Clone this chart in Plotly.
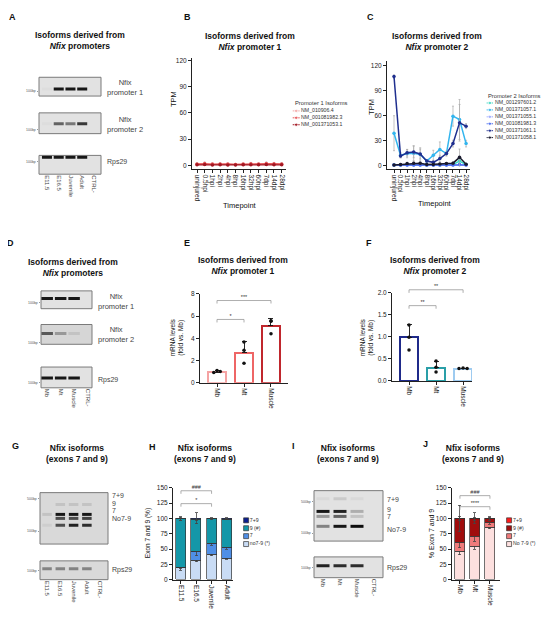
import math
import plotly.graph_objects as go

W, H = 550, 634
OFF = 8  # page body margin the figure sits in
FONT = 'Liberation Sans'

# ---------------- data ----------------
timepoints = ['uninjured', '0.5hpi', '1hpi', '2hpi', '4hpi', '8hpi', '16hpi',
              '32hpi', '60hpi', '7dpi', '14dpi', '28dpi']

# B - promoter 1 isoforms (TPM)
p1_names = ['NM_010906.4', 'NM_001081982.3', 'NM_001371053.1']
p1_colors = ['#f4a9a8', '#e8585a', '#a31621']
p1_tpm = [
    [1.2, 1.5, 1.0, 1.1, 1.0, 0.8, 1.0, 1.3, 1.0, 1.4, 1.2, 1.1],
    [1.5, 2.0, 1.4, 1.6, 1.5, 1.0, 1.4, 1.8, 1.5, 2.0, 1.8, 1.6],
    [0.6, 0.8, 0.5, 0.6, 0.5, 0.4, 0.6, 0.7, 0.6, 0.8, 0.7, 0.6],
]
p1_err = [
    [1.0, 1.5, 0.8, 0.9, 0.8, 0.5, 0.8, 1.2, 0.8, 1.5, 1.2, 1.0],
    [1.2, 1.8, 1.0, 1.2, 1.0, 0.6, 1.0, 1.5, 1.0, 1.8, 1.5, 1.2],
    [0.4, 0.6, 0.4, 0.4, 0.4, 0.3, 0.4, 0.5, 0.4, 0.6, 0.5, 0.4],
]

# C - promoter 2 isoforms (TPM)
p2_names = ['NM_001297601.2', 'NM_001371057.1', 'NM_001371055.1',
            'NM_001081981.3', 'NM_001371061.1', 'NM_001371058.1']
p2_colors = ['#3fd9c4', '#33b5ee', '#9aa8ff', '#4a6cf0', '#1f2f8f', '#1a1a2e']
p2_tpm = [
    [0.3, 0.3, 0.5, 0.6, 0.5, 0.3, 0.3, 0.4, 0.5, 1.0, 5.0, 0.8],
    [38.5, 12, 14, 14.5, 13, 5, 12, 19, 14, 59, 55, 26],
    [0.2, 0.1, 0.2, 0.2, 0.2, 0.1, 0.1, 0.2, 0.2, 0.3, 0.5, 0.2],
    [0.4, 0.2, 0.3, 0.3, 0.3, 0.2, 0.2, 0.3, 0.3, 0.4, 0.8, 0.3],
    [106.5, 11, 15, 16, 13.5, 5, 3.5, 8, 14, 26, 51, 47],
    [0.3, 1.0, 2.0, 2.5, 2.5, 0.8, 0.8, 1.5, 2.0, 2.5, 9.5, 1.2],
]
p2_err = [
    [0.3, 0.2, 0.3, 0.3, 0.3, 0.2, 0.2, 0.3, 0.3, 0.6, 3.5, 0.5],
    [21, 3, 5, 9, 8, 2, 6, 9, 3, 12, 24, 4],
    [0.1, 0.1, 0.1, 0.1, 0.1, 0.1, 0.1, 0.1, 0.1, 0.2, 0.3, 0.1],
    [0.2, 0.1, 0.2, 0.2, 0.2, 0.1, 0.1, 0.2, 0.2, 0.2, 0.4, 0.2],
    [2, 2, 4, 7, 6, 1, 2, 4, 2, 4, 22, 3],
    [0.3, 0.5, 1.0, 1.5, 1.5, 0.5, 0.5, 1.0, 1.0, 1.5, 10, 0.6],
]

# E / F - qPCR fold vs Mb
tissues = ['Mb', 'Mt', 'Muscle']
prom1_mean = [0.97, 2.74, 5.12]
prom1_sd = [0.1, 1.02, 0.67]
prom1_reps = [[0.94, 1.12, 1.03], [3.68, 2.94, 1.76], [5.59, 5.53, 4.41]]
prom1_colors = ['#f5a3a3', '#ee6666', '#c0272d']
prom1_sig = [(0, 1, 5.7, '*'), (0, 2, 7.4, '***')]

prom2_mean = [0.99, 0.30, 0.28]
prom2_sd = [0.29, 0.14, 0.01]
prom2_reps = [[1.27, 0.99, 0.70], [0.45, 0.31, 0.20], [0.28, 0.29, 0.28]]
prom2_colors = ['#1f2a8a', '#2a9fa8', '#9ecbf0']
prom2_sig = [(0, 1, 1.71, '**'), (0, 2, 2.07, '**')]

# H - exon 7/9 isoforms over development (%)
stages = ['E11.5', 'E16.5', 'Juvenile', 'Adult']
dev_names = ['no7-9 (*)', '7', '9 (#)', '7+9']
dev_colors = ['#c9dcf5', '#4f8fe6', '#1497a8', '#0b1f8f']
dev_pct = [
    [19, 31, 41, 34],
    [0.5, 14, 17, 18],
    [79.5, 53.4, 41, 46.5],
    [1, 1.6, 1, 1.5],
]
dev_err = [
    [4, 2, 2, 1],
    [0.5, 6, 2, 2],
    [2, 2, 1, 1],
    [3, 9, 1, 1],
]
dev_sig = [(0, 2, 124, '*'), (0, 2, 145, '###')]

# J - exon 7/9 isoforms in tissues (%)
tis_names = ['No 7-9 (*)', '7', '9 (#)', '7+9']
tis_colors = ['#fde0df', '#ef7b7b', '#a00d0d', '#ff1a1a']
tis_pct = [
    [46, 53, 84],
    [14, 17.6, 9],
    [39.5, 28.4, 6],
    [0.5, 1, 1],
]
tis_err = [
    [5, 3, 1],
    [8, 8, 3],
    [3, 3, 2],
    [21, 9, 3],
]
tis_sig = [(0, 2, 119, '****'), (0, 2, 137, '###')]

# gels: band intensities per lane (0 = no band)
lanes_dev = ['E11.5', 'E16.5', 'Juvenile', 'Adult', 'CTRL-']
lanes_tis = ['Mb', 'Mt', 'Muscle', 'CTRL-']
gelA_prom1 = [0.03, 0.95, 0.95, 0.95, 0.0]
gelA_prom2 = [0.03, 0.6, 0.5, 0.8, 0.0]
gelA_rps29 = [0.95, 0.95, 0.95, 0.95, 0.0]
gelD_prom1 = [0.95, 0.95, 0.95, 0.0]
gelD_prom2 = [0.65, 0.35, 0.15, 0.0]
gelD_rps29 = [0.95, 0.95, 0.95, 0.0]
exon_bands = ['7+9', '9', '7', 'No7-9']
gelG_exon = [
    [0.05, 0.15, 0.15, 0.15, 0.0],
    [0.15, 0.95, 0.95, 0.95, 0.0],
    [0.05, 0.7, 0.7, 0.75, 0.0],
    [0.1, 0.7, 0.9, 0.85, 0.0],
]
gelG_rps29 = [0.45, 0.45, 0.45, 0.45, 0.0]
gelI_exon = [
    [0.05, 0.12, 0.05, 0.0],
    [0.95, 0.9, 0.25, 0.0],
    [0.35, 0.6, 0.15, 0.0],
    [0.45, 0.95, 1.0, 0.0],
]
gelI_rps29 = [0.9, 0.85, 0.85, 0.0]

# band sizes (bp) as they sit on each gel
bpA = [108, 126, 117]
bpD = [117, 141, 121]
bpG = [373, 229, 188, 134]
bpG_rps29 = 110
bpI = [580, 303, 235, 142]
bpI_rps29 = 110

# ---------------- figure ----------------
fig = go.Figure()
anns = []
shapes = []


def xdom(a, b):
    return [(a - OFF) / W, (b - OFF) / W]


def ydom(top, bottom):
    return [1 - (bottom - OFF) / H, 1 - (top - OFF) / H]


def ids(n):
    return ('x', 'y') if n == 1 else (f'x{n}', f'y{n}')


def set_axes(n, xd, yd, xkw, ykw):
    xid, yid = ids(n)
    xname = 'xaxis' if n == 1 else f'xaxis{n}'
    yname = 'yaxis' if n == 1 else f'yaxis{n}'
    fig.update_layout(**{xname: dict(domain=xdom(*xd), anchor=yid, **xkw),
                         yname: dict(domain=ydom(*yd), anchor=xid, **ykw)})


def ann(x, y, text, size=7, angle=0, xanchor='center', color='#111'):
    anns.append(dict(x=(x - OFF) / W, y=1 - (y - OFF) / H, xref='paper', yref='paper', text=text,
                     showarrow=False, textangle=angle, xanchor=xanchor, yanchor='middle',
                     font=dict(size=size, color=color, family=FONT)))


AX = dict(showline=True, linecolor='#222', linewidth=1, ticks='outside', ticklen=3,
          tickwidth=1, tickcolor='#222', showgrid=False, zeroline=False,
          tickfont=dict(size=6.5, color='#222'))

# --- B: promoter 1 time course
tp_idx = list(range(len(timepoints)))
set_axes(1, (192, 286), (55, 167),
         dict(AX, range=[-0.65, 11.56], tickvals=tp_idx, ticktext=timepoints,
              tickangle=90, tickfont=dict(size=6.5, color='#222')),
         dict(AX, range=[-4.5, 122.3], tickvals=[0, 30, 60, 90, 120]))
for nm, c, v, e in zip(p1_names, p1_colors, p1_tpm, p1_err):
    fig.add_trace(go.Scatter(x=tp_idx, y=v, mode='lines+markers', xaxis='x', yaxis='y',
                             line=dict(color=c, width=1.3), marker=dict(size=3.5, color=c),
                             error_y=dict(type='data', array=e, color='#aaa', thickness=0.7, width=1),
                             showlegend=False))

# --- C: promoter 2 time course
set_axes(2, (387, 470), (58, 167),
         dict(AX, range=[-1.07, 11.6], tickvals=tp_idx, ticktext=timepoints,
              tickangle=90, tickfont=dict(size=6.5, color='#222')),
         dict(AX, range=[-4.8, 124.7], tickvals=[0, 30, 60, 90, 120]))
for nm, c, v, e in zip(p2_names, p2_colors, p2_tpm, p2_err):
    fig.add_trace(go.Scatter(x=tp_idx, y=v, mode='lines+markers', xaxis='x2', yaxis='y2',
                             line=dict(color=c, width=1.5), marker=dict(size=3.5, color=c),
                             error_y=dict(type='data', array=e, color='#aaa', thickness=0.7, width=1),
                             showlegend=False))


def bracket(n, xd, yd, xr, yr, sig, d, extra=16):
    # invisible twin axis, taller than the plot, so brackets above the range are not clipped
    top, bottom = yd
    per_px = (yr[1] - yr[0]) / (bottom - top)
    set_axes(n, xd, (top - extra, bottom), dict(visible=False, range=xr),
             dict(visible=False, range=[yr[0], yr[1] + extra * per_px]))
    xid, yid = ids(n)
    for a, b, y, lab in sig:
        fig.add_trace(go.Scatter(x=[a, a, b, b], y=[y - d, y, y, y - d], mode='lines',
                                 line=dict(color='#999', width=0.8), xaxis=xid, yaxis=yid,
                                 showlegend=False, hoverinfo='skip'))
        fig.add_trace(go.Scatter(x=[(a + b) / 2], y=[y], text=[lab], mode='text',
                                 textposition='top center', textfont=dict(size=5.5, color='#333'),
                                 xaxis=xid, yaxis=yid, showlegend=False, cliponaxis=False))


def qpcr(n, nb, xd, yd, xr, yr, dtick, fmt, means, sds, reps, jitter, colors, sig, d):
    xid, yid = ids(n)
    set_axes(n, xd, yd,
             dict(AX, range=xr, tickvals=[0, 1, 2], ticktext=tissues, tickangle=90),
             dict(AX, range=yr, dtick=dtick, tickformat=fmt))
    fig.add_trace(go.Bar(x=[0, 1, 2], y=means, width=0.67, xaxis=xid, yaxis=yid,
                         marker=dict(color='white', line=dict(color=colors, width=2)),
                         error_y=dict(type='data', array=sds, arrayminus=[0, 0, 0], symmetric=False,
                                      color='#111', thickness=0.9, width=2.5),
                         showlegend=False))
    for i, (r, j) in enumerate(zip(reps, jitter)):
        fig.add_trace(go.Scatter(x=[i + o for o in j], y=r, mode='markers', xaxis=xid, yaxis=yid,
                                 marker=dict(size=3.5, color='#111'), showlegend=False))
    bracket(nb, xd, yd, xr, yr, sig, d)


qpcr(3, 21, (200, 288), (293, 383), [-0.63, 2.63], [0, 8], 2, '', prom1_mean, prom1_sd,
     prom1_reps, [[-0.12, 0, 0.12], [0, 0, 0], [0, 0, 0]], prom1_colors, prom1_sig, 0.27)
qpcr(4, 22, (392, 472), (292, 381), [-0.63, 2.33], [0, 2], 0.5, '.1f', prom2_mean, prom2_sd,
     prom2_reps, [[0, 0, 0], [0, 0, 0], [-0.15, 0, 0.15]], prom2_colors, prom2_sig, 0.07)


def stacked(n, nb, xd, xr, cats, pct, err, colors, sig):
    xid, yid = ids(n)
    set_axes(n, xd, (489, 582),
             dict(AX, range=xr, tickvals=list(range(len(cats))), ticktext=cats, tickangle=90),
             dict(AX, range=[0, 150], dtick=25))
    for v, e, c in zip(pct, err, colors):
        fig.add_trace(go.Bar(x=list(range(len(cats))), y=v, width=0.66, xaxis=xid, yaxis=yid,
                             marker=dict(color=c, line=dict(color='#333', width=0.7)),
                             error_y=dict(type='data', array=e, color='#444', thickness=0.8, width=1.5),
                             showlegend=False))
    bracket(nb, xd, (489, 582), xr, [0, 150], sig, 5)


stacked(5, 23, (173, 233), [-0.52, 3.4], stages, dev_pct, dev_err, dev_colors, dev_sig)
stacked(6, 24, (452, 500), [-0.53, 2.67], tissues, tis_pct, tis_err, tis_colors, tis_sig)


# --- gels
def band_color(v):
    g = int(228 - 215 * v)
    return f'rgb({g},{g},{g})'


def gel(n, xd, yd, xr, lanes, bands, bp, bp_range, ticks_bp, show_lanes, bw, bg='#e2e2e2'):
    xid, yid = ids(n)
    set_axes(n, xd, yd,
             dict(range=xr, showgrid=False, zeroline=False, showline=False, ticks='',
                  tickvals=list(range(len(lanes))), ticktext=lanes, showticklabels=show_lanes,
                  tickangle=90, tickfont=dict(size=6, color='#444')),
             dict(type='log', range=[math.log10(bp_range[0]), math.log10(bp_range[1])],
                  tickvals=ticks_bp, ticktext=[f'{t}bp' for t in ticks_bp], ticks='outside',
                  ticklen=1.5, tickcolor='#999', tickfont=dict(size=3.5, color='#555'),
                  showgrid=False, zeroline=False, showline=False))
    shapes.append(dict(type='rect', xref=f'{xid} domain', yref=f'{yid} domain', x0=0, x1=1,
                       y0=0, y1=1, fillcolor=bg, line=dict(color='#7a7a7a', width=1), layer='below'))
    for inten, size in zip(bands, bp):
        keep = [i for i, v in enumerate(inten) if v > 0]
        # line-ew symbols are 1.4x the marker size long
        fig.add_trace(go.Scatter(x=keep, y=[size] * len(keep), mode='markers', xaxis=xid, yaxis=yid,
                                 marker=dict(symbol='line-ew', size=bw / 1.4,
                                             line=dict(width=3, color=[band_color(inten[i]) for i in keep])),
                                 showlegend=False, hoverinfo='skip'))


xrA = [-0.68, 4.6]
gel(7, (39, 101), (74, 93), xrA, lanes_dev, [gelA_prom1], [bpA[0]], (82.5, 171), [100], False, 10)
gel(8, (39, 101), (110, 131), xrA, lanes_dev, [gelA_prom2], [bpA[1]], (85.8, 192), [100], False, 10)
gel(9, (39, 101), (153, 172), xrA, lanes_dev, [gelA_rps29], [bpA[2]], (60.7, 126), [100], True, 10)
xrD = [-0.46, 3.33]
gel(10, (41, 92), (290, 308), xrD, lanes_tis, [gelD_prom1], [bpD[0]], (79, 158), [100], False, 11.5)
gel(11, (41, 92), (324, 344), xrD, lanes_tis, [gelD_prom2], [bpD[1]], (92.6, 200), [100], False, 11.5, '#d6d6d6')
gel(12, (41, 92), (367, 388), xrD, lanes_tis, [gelD_rps29], [bpD[2]], (82.5, 185), [100], True, 11.5)
xrG = [-0.53, 4.59]
gel(13, (40, 108), (494, 546), xrG, lanes_dev, gelG_exon, bpG, (53, 670), [100, 500], False, 9.5, '#d9d9d9')
gel(14, (40, 108), (563, 582), xrG, lanes_dev, [gelG_rps29], [bpG_rps29], (64, 163), [100], True, 9.5, '#d9d9d9')
xrI = [-0.53, 3.53]
gel(15, (314, 383), (492, 543), xrI, lanes_tis, gelI_exon, bpI, (67, 870), [100, 500], False, 13)
gel(16, (314, 383), (559, 580), xrI, lanes_tis, [gelI_rps29], [bpI_rps29], (61, 171), [100], True, 13)


# --- custom legends
def legend(n, xd, yd, names, colors, kind, mx, tx):
    xid, yid = ids(n)
    set_axes(n, xd, yd, dict(visible=False, range=[0, 1]),
             dict(visible=False, range=[len(names) - 0.5, -0.5]))
    for i, (nm, c) in enumerate(zip(names, colors)):
        if kind == 'line':
            fig.add_trace(go.Scatter(x=[mx - 0.05, mx, mx + 0.05], y=[i] * 3, mode='lines+markers',
                                     line=dict(color=c, width=1), marker=dict(size=[0, 3.5, 0], color=c),
                                     xaxis=xid, yaxis=yid, showlegend=False, cliponaxis=False))
        else:
            fig.add_trace(go.Scatter(x=[mx], y=[i], mode='markers',
                                     marker=dict(symbol='square', size=5, color=c,
                                                 line=dict(color='#333', width=0.7)),
                                     xaxis=xid, yaxis=yid, showlegend=False, cliponaxis=False))
    fig.add_trace(go.Scatter(x=[tx] * len(names), y=list(range(len(names))), text=names, mode='text',
                             textposition='middle right', textfont=dict(size=5.2, color='#333'),
                             xaxis=xid, yaxis=yid, showlegend=False, cliponaxis=False))


legend(17, (292, 362), (104.5, 125.5), p1_names, p1_colors, 'line', 0.06, 0.13)
legend(18, (486, 550), (96.5, 138.5), p2_names, p2_colors, 'line', 0.06, 0.14)
legend(19, (243, 295), (518, 550), dev_names[::-1], dev_colors[::-1], 'box', 0.06, 0.13)
legend(20, (506, 550), (518, 550), tis_names[::-1], tis_colors[::-1], 'box', 0.07, 0.16)
ann(293, 100, 'Promoter 1 Isoforms', 5.8, xanchor='left', color='#333')
ann(486, 93, 'Promoter 2 Isoforms', 5.8, xanchor='left', color='#333')

# --- panel letters and titles
for lab, x, y in [('A', 12, 13), ('B', 187, 13), ('C', 370, 13), ('D', 10, 242), ('E', 187, 242),
                  ('F', 369, 242), ('G', 15, 447), ('H', 152, 448), ('I', 293, 447), ('J', 425, 445)]:
    ann(x, y, f'<b>{lab}</b>', 9)

t_prom = '<b>Isoforms derived from</b><br><b><i>Nfix</i> promoters</b>'
t_p1 = '<b>Isoforms derived from</b><br><b><i>Nfix</i> promoter 1</b>'
t_p2 = '<b>Isoforms derived from</b><br><b><i>Nfix</i> promoter 2</b>'
t_ex = '<b>Nfix isoforms</b><br><b>(exons 7 and 9)</b>'
for t, x, y in [(t_prom, 80, 37), (t_p1, 250, 38), (t_p2, 437, 38), (t_prom, 73, 266),
                (t_p1, 243, 264), (t_p2, 435, 264), (t_ex, 77, 454), (t_ex, 205, 454),
                (t_ex, 348, 454), (t_ex, 473, 454)]:
    ann(x, y, t, 8.5)

# gel side labels
for t, x, y in [('Nfix<br>promoter 1', 105, 84), ('Nfix<br>promoter 2', 105, 122), ('Rps29', 105, 160),
                ('Nfix<br>promoter 1', 96, 301), ('Nfix<br>promoter 2', 96, 334), ('Rps29', 96, 380),
                ('7+9', 110, 497), ('9', 110, 505), ('7', 110, 512), ('No7-9', 110, 520), ('Rps29', 110, 572),
                ('7+9', 385, 501), ('9', 385, 511), ('7', 385, 518), ('No7-9', 385, 531), ('Rps29', 385, 570)]:
    ann(x, y, t, 7.5 if 'Nfix' in t else 7, xanchor='left', color='#444')

# axis titles
ann(173, 96, 'TPM', 7.5, -90)
ann(372, 104, 'TPM', 7.5, -90)
ann(240, 204, 'Timepoint', 7.5)
ann(435, 202, 'Timepoint', 7.5)
ann(177, 337, 'mRNA levels<br>(fold vs. Mb)', 6.5, -90)
ann(367, 337, 'mRNA levels<br>(fold vs. Mb)', 6.5, -90)
ann(148, 535, 'Exon 7 and 9 (%)', 6.5, -90)
ann(431, 535, '% Exon 7 and 9', 7, -90)

fig.update_layout(width=W, height=H, margin=dict(l=0, r=0, t=0, b=0),
                  paper_bgcolor='white', plot_bgcolor='rgba(0,0,0,0)', barmode='stack', bargap=0,
                  font=dict(family=FONT, color='#222'), showlegend=False,
                  annotations=anns, shapes=shapes)

fig.write_html('out.html', config={'displayModeBar': False})
